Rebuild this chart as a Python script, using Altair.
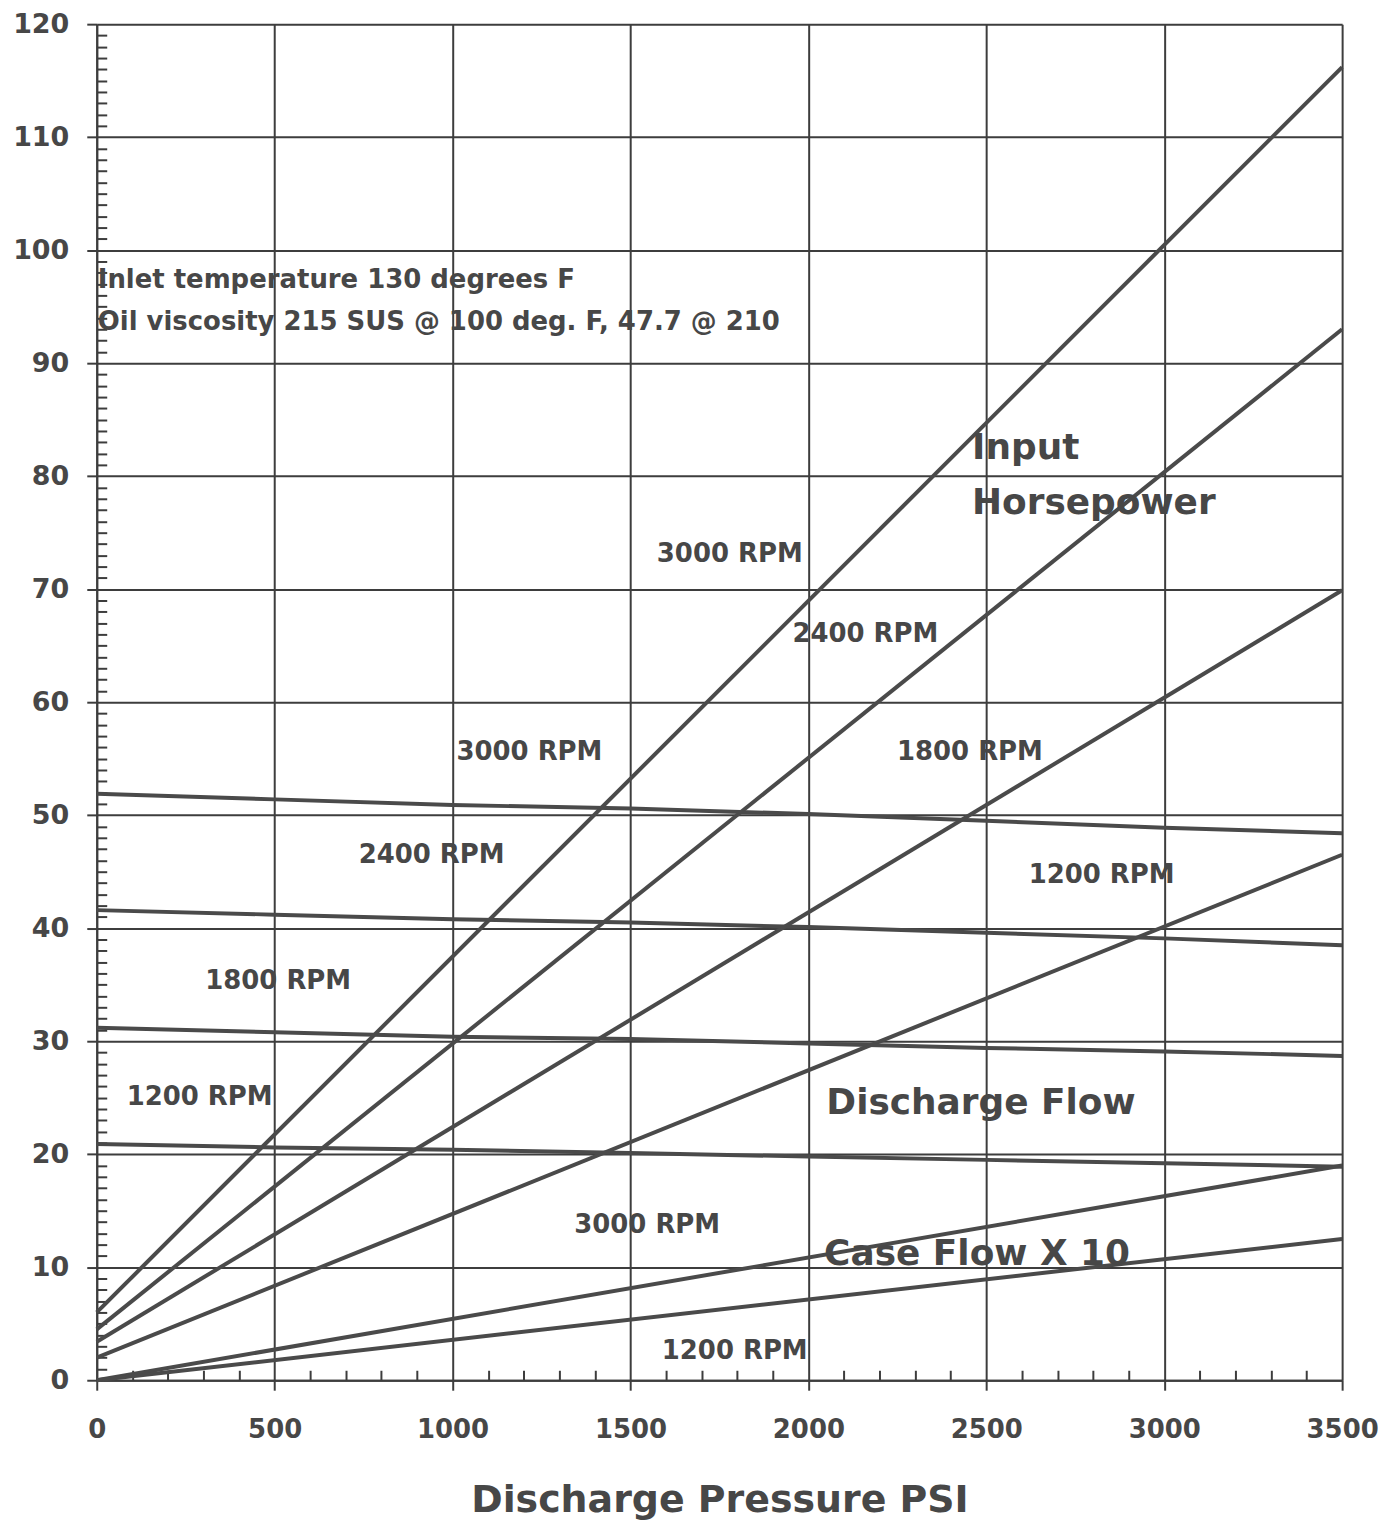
import altair as alt
import pandas as pd

# ---- data ----
hp_pressure = [0, 3500]
hp_3000 = [6.0, 116.2]
hp_2400 = [4.5, 93.0]
hp_1800 = [3.4, 69.9]
hp_1200 = [2.0, 46.5]

flow_pressure = [0, 500, 1000, 1500, 2000, 2500, 3000, 3500]
flow_3000 = [51.9, 51.4, 50.9, 50.6, 50.1, 49.5, 48.9, 48.4]
flow_2400 = [41.6, 41.2, 40.8, 40.5, 40.1, 39.6, 39.1, 38.5]
flow_1800 = [31.2, 30.8, 30.4, 30.2, 29.8, 29.4, 29.1, 28.7]
flow_1200 = [20.9, 20.6, 20.4, 20.1, 19.8, 19.5, 19.2, 18.9]

case_pressure = [0, 3500]
case_3000 = [0.0, 19.0]
case_1200 = [0.0, 12.5]

x_major = [0, 500, 1000, 1500, 2000, 2500, 3000, 3500]
y_major = list(range(0, 121, 10))
x_minor = [v for v in range(0, 3501, 100) if v % 500 != 0]
y_minor = [v for v in range(0, 121) if v % 10 != 0]

note_text = ["Inlet temperature 130 degrees F", "Oil viscosity 215 SUS @ 100 deg. F, 47.7 @ 210"]
note_x = [0, 0]
note_y = [97.4, 93.6]

big_text = ["Input", "Horsepower", "Discharge Flow", "Case Flow X 10"]
big_x = [2460, 2460, 2485, 2474]
big_y = [82.5, 77.6, 24.5, 11.2]
big_align = ["left", "left", "center", "center"]

rpm_text = ["3000 RPM", "2400 RPM", "1800 RPM", "1200 RPM",
            "3000 RPM", "2400 RPM", "1800 RPM", "1200 RPM",
            "3000 RPM", "1200 RPM"]
rpm_x = [1779, 2160, 2454, 2824, 1216, 941, 510, 289, 1547, 1793]
rpm_y = [73.1, 66.0, 55.6, 44.7, 55.6, 46.5, 35.3, 25.1, 13.7, 2.6]

# ---- build tables ----
rows = []
def add(name, xs, ys):
    for a, b in zip(xs, ys):
        rows.append({"series": name, "pressure": a, "value": b})

add("hp3000", hp_pressure, hp_3000)
add("hp2400", hp_pressure, hp_2400)
add("hp1800", hp_pressure, hp_1800)
add("hp1200", hp_pressure, hp_1200)
add("fl3000", flow_pressure, flow_3000)
add("fl2400", flow_pressure, flow_2400)
add("fl1800", flow_pressure, flow_1800)
add("fl1200", flow_pressure, flow_1200)
add("cf3000", case_pressure, case_3000)
add("cf1200", case_pressure, case_1200)
lines_df = pd.DataFrame(rows)

notes_df = pd.DataFrame({"t": note_text, "x": note_x, "y": note_y})
big_df = pd.DataFrame({"t": big_text, "x": big_x, "y": big_y, "a": big_align})
rpm_df = pd.DataFrame({"t": rpm_text, "x": rpm_x, "y": rpm_y})

INK = "#3d3d3d"
TXT = "#474747"
FONT = "DejaVu Sans"

xscale = alt.Scale(domain=[0, 3500], nice=False, zero=False)
yscale = alt.Scale(domain=[0, 120], nice=False, zero=False)

x_axis = alt.Axis(values=x_major, format="d", grid=True, gridColor=INK, gridWidth=2, gridOpacity=1,
                  tickSize=10, tickWidth=2, tickColor=INK, domain=True, domainColor=INK,
                  domainWidth=2, labelFontSize=26, labelFont=FONT, labelFontWeight="bold",
                  labelColor=TXT, labelPadding=26, title="Discharge Pressure PSI",
                  titleFontSize=38, titleFont=FONT, titleFontWeight="bold", titleColor=TXT,
                  titlePadding=40, orient="bottom", labelFlush=False)
y_axis = alt.Axis(values=y_major, format="d", grid=True, gridColor=INK, gridWidth=2, gridOpacity=1,
                  tickSize=10, tickWidth=2, tickColor=INK, domain=True, domainColor=INK,
                  domainWidth=2, labelFontSize=27, labelFont=FONT, labelFontWeight="bold",
                  labelColor=TXT, labelPadding=18, title=None, orient="left", labelFlush=False)

lines = alt.Chart(lines_df).mark_line(color="#4a4a4a", strokeWidth=4).encode(
    x=alt.X("pressure:Q", scale=xscale, axis=x_axis),
    y=alt.Y("value:Q", scale=yscale, axis=y_axis),
    detail="series:N",
)

minor = alt.Chart(lines_df).mark_line(opacity=0).encode(
    x=alt.X("pressure:Q", scale=xscale,
            axis=alt.Axis(values=x_minor, orient="bottom", offset=-10, tickSize=10,
                          tickWidth=2, tickColor=INK, domain=False, labels=False,
                          grid=False, title=None)),
    y=alt.Y("value:Q", scale=yscale,
            axis=alt.Axis(values=y_minor, orient="left", offset=-10, tickSize=10,
                          tickWidth=2, tickColor=INK, domain=False, labels=False,
                          grid=False, title=None)),
    detail="series:N",
)

notes = alt.Chart(notes_df).mark_text(align="left", baseline="middle", font=FONT,
                                      fontWeight="bold", fontSize=26, color=TXT, dx=1).encode(
    x=alt.X("x:Q", scale=xscale, axis=None),
    y=alt.Y("y:Q", scale=yscale, axis=None),
    text="t:N",
)

big_left = alt.Chart(big_df[big_df.a == "left"]).mark_text(
    align="left", baseline="middle", font=FONT, fontWeight="bold", fontSize=36, color=TXT).encode(
    x=alt.X("x:Q", scale=xscale, axis=None),
    y=alt.Y("y:Q", scale=yscale, axis=None),
    text="t:N",
)
big_center = alt.Chart(big_df[big_df.a == "center"]).mark_text(
    align="center", baseline="middle", font=FONT, fontWeight="bold", fontSize=36, color=TXT).encode(
    x=alt.X("x:Q", scale=xscale, axis=None),
    y=alt.Y("y:Q", scale=yscale, axis=None),
    text="t:N",
)

rpm = alt.Chart(rpm_df).mark_text(align="center", baseline="middle", font=FONT,
                                  fontWeight="bold", fontSize=26, color=TXT).encode(
    x=alt.X("x:Q", scale=xscale, axis=None),
    y=alt.Y("y:Q", scale=yscale, axis=None),
    text="t:N",
)

chart = alt.layer(lines, minor, notes, big_left, big_center, rpm).resolve_axis(
    x="independent", y="independent"
).properties(
    width=1249, height=1360,
    autosize=alt.AutoSizeParams(type="none"),
    padding={"left": 89, "top": 14, "right": 45, "bottom": 150},
    background="white",
).configure_view(stroke=None)

chart.save("out.html", embed_options={"renderer": "svg", "actions": False})
